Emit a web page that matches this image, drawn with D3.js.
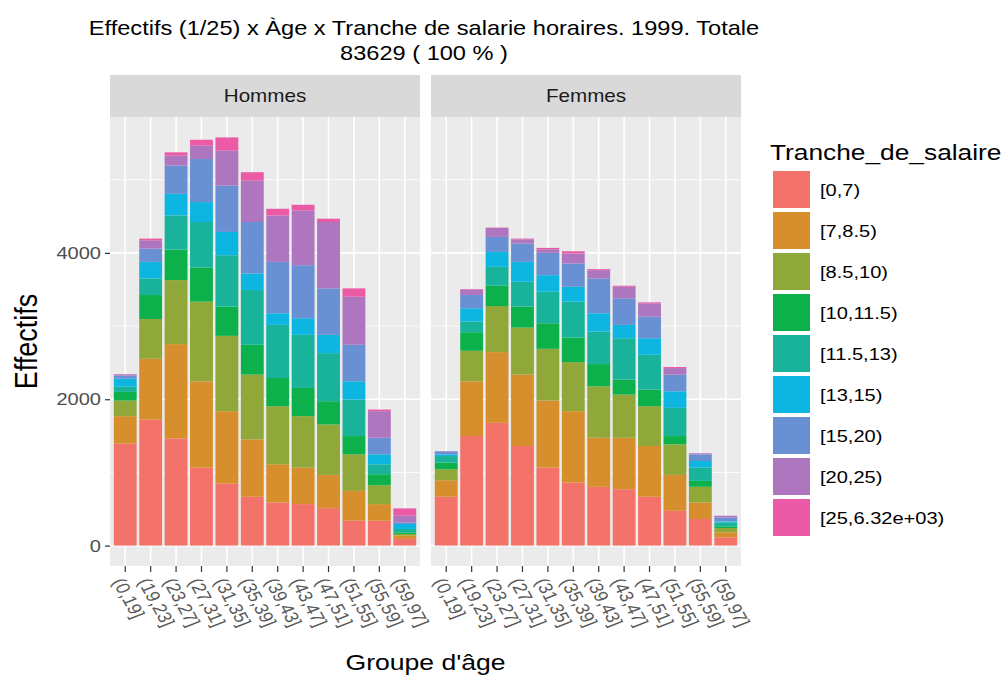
<!DOCTYPE html>
<html>
<head>
<meta charset="utf-8">
<script src="https://cdn.jsdelivr.net/npm/d3@7"></script>
<style>
  body { margin: 0; background: #fff; }
  text { font-family: "Liberation Sans", Arial, sans-serif; }
</style>
</head>
<body>
<svg id="chart" width="1002" height="675"></svg>
<script>
// Data
var ages = ["(0,19]", "(19,23]", "(23,27]", "(27,31]", "(31,35]", "(35,39]",
            "(39,43]", "(43,47]", "(47,51]", "(51,55]", "(55,59]", "(59,97]"];
var tranches = ["[0,7)", "[7,8.5)", "[8.5,10)", "[10,11.5)", "[11.5,13)",
                "[13,15)", "[15,20)", "[20,25)", "[25,6.32e+03)"];
var couleurs = ["#F3736B", "#D68F2C", "#90A73A", "#0DB14B", "#19B39B",
                "#0DB6E0", "#6A90D4", "#AE76BE", "#EA5AA5"];
var sexes = ["Hommes", "Femmes"];

// one row per age group, one value per wage band
var hommes = [
  [1392, 377, 213, 118, 70, 110, 45, 15, 5],
  [1720, 833, 544, 327, 227, 226, 182, 113, 23],
  [1465, 1288, 875, 417, 467, 295, 386, 136, 45],
  [1066, 1179, 1088, 467, 622, 272, 589, 182, 81],
  [848, 989, 1029, 399, 703, 318, 634, 477, 181],
  [667, 784, 885, 408, 748, 227, 703, 567, 113],
  [590, 521, 794, 385, 726, 159, 702, 635, 91],
  [567, 499, 703, 385, 726, 227, 725, 748, 77],
  [512, 454, 689, 318, 657, 250, 635, 907, 45],
  [340, 408, 499, 250, 498, 250, 499, 657, 114],
  [340, 227, 258, 150, 136, 136, 227, 363, 22],
  [91, 45, 23, 22, 46, 68, 22, 91, 100]
];
var femmes = [
  [667, 226, 150, 91, 90, 23, 40, 5, 0],
  [1497, 748, 417, 254, 145, 182, 181, 77, 5],
  [1678, 966, 630, 277, 258, 204, 205, 122, 5],
  [1361, 975, 643, 286, 340, 272, 250, 59, 9],
  [1066, 916, 707, 349, 431, 227, 304, 50, 18],
  [862, 975, 671, 335, 490, 204, 318, 136, 31],
  [803, 671, 703, 304, 444, 250, 476, 113, 14],
  [771, 703, 589, 205, 566, 182, 363, 158, 14],
  [667, 694, 544, 226, 477, 226, 295, 182, 13],
  [476, 490, 417, 114, 385, 227, 227, 90, 14],
  [363, 227, 213, 81, 182, 90, 91, 14, 0],
  [113, 68, 59, 23, 54, 14, 54, 23, 0]
];
var yTicks = [0, 2000, 4000];
var yMinor = [1000, 3000, 5000];

var svg = d3.select("#chart");

var panelW = 310, panelTop = 117, panelBottom = 566, stripTop = 75;
var panelX = [110, 431];
var sx = 1.18; // the text in the picture is a bit wide

// text helper: stretched horizontally round its anchor
function texte(parent, x, y, txt, size, anchor, extra) {
  return parent.append("text")
    .attr("transform", "translate(" + x + "," + y + ") scale(" + sx + ",1)" + (extra || ""))
    .attr("text-anchor", anchor || "start")
    .attr("font-size", size)
    .attr("fill", "#000")
    .text(txt);
}

var maxTotal = d3.max(hommes.concat(femmes), function(r) { return d3.sum(r); });
var y = d3.scaleLinear()
  .domain([-0.05 * maxTotal, 1.05 * maxTotal])
  .range([panelBottom, panelTop]);

var stack = d3.stack().keys(d3.range(tranches.length));

sexes.forEach(function(sexe, i) {
  var rows = i == 0 ? hommes : femmes;
  var x = d3.scaleBand()
    .domain(ages)
    .range([panelX[i], panelX[i] + panelW])
    .paddingInner(0.1)
    .paddingOuter(0.15);

  var g = svg.append("g");

  // panel background + grid
  g.append("rect")
    .attr("x", panelX[i]).attr("y", panelTop)
    .attr("width", panelW).attr("height", panelBottom - panelTop)
    .attr("fill", "#EBEBEB");

  g.selectAll(".minor").data(yMinor).enter().append("line")
    .attr("x1", panelX[i]).attr("x2", panelX[i] + panelW)
    .attr("y1", function(d) { return y(d); }).attr("y2", function(d) { return y(d); })
    .attr("stroke", "#fff").attr("stroke-width", 0.8);

  g.selectAll(".major").data(yTicks).enter().append("line")
    .attr("x1", panelX[i]).attr("x2", panelX[i] + panelW)
    .attr("y1", function(d) { return y(d); }).attr("y2", function(d) { return y(d); })
    .attr("stroke", "#fff").attr("stroke-width", 1.6);

  g.selectAll(".vgrid").data(ages).enter().append("line")
    .attr("x1", function(d) { return x(d) + x.bandwidth() / 2; })
    .attr("x2", function(d) { return x(d) + x.bandwidth() / 2; })
    .attr("y1", panelTop).attr("y2", panelBottom)
    .attr("stroke", "#fff").attr("stroke-width", 1.6);

  // stacked bars
  var series = stack(rows);
  g.selectAll(".serie").data(series).enter().append("g")
    .attr("fill", function(d) { return couleurs[d.key]; })
    .selectAll("rect").data(function(d) { return d; }).enter().append("rect")
      .attr("x", function(d, j) { return x(ages[j]); })
      .attr("width", x.bandwidth())
      .attr("y", function(d) { return y(d[1]); })
      .attr("height", function(d) { return y(d[0]) - y(d[1]); });

  // strip
  g.append("rect")
    .attr("x", panelX[i]).attr("y", stripTop)
    .attr("width", panelW).attr("height", panelTop - stripTop)
    .attr("fill", "#D9D9D9");
  texte(g, panelX[i] + panelW / 2, (stripTop + panelTop) / 2 + 6, sexe, 17.5, "middle")
    .attr("fill", "#1A1A1A");

  // x axis
  var xAxis = g.append("g")
    .attr("transform", "translate(0," + panelBottom + ")")
    .call(d3.axisBottom(x).tickSize(6).tickSizeOuter(0));
  xAxis.select(".domain").remove();
  xAxis.selectAll(".tick line").attr("stroke", "#333").attr("stroke-width", 1.2);
  xAxis.selectAll(".tick text")
    .attr("font-size", 16.5).attr("fill", "#595959")
    .attr("text-anchor", "start")
    .attr("y", 0).attr("dy", "0.35em")
    .attr("transform", "translate(-7,13) scale(" + sx + ",1) rotate(65)");
});

// y axis (left panel only)
var yAxis = svg.append("g")
  .attr("transform", "translate(" + panelX[0] + ",0)")
  .call(d3.axisLeft(y).tickValues(yTicks).tickFormat(d3.format("d")).tickSize(5));
yAxis.select(".domain").remove();
yAxis.selectAll(".tick line").attr("stroke", "#333").attr("stroke-width", 1.2);
yAxis.selectAll(".tick text")
  .attr("font-size", 17).attr("fill", "#4D4D4D")
  .attr("x", 0)
  .attr("transform", "translate(-9,0) scale(" + sx + ",1)");

// titles
texte(svg, 424, 35, "Effectifs (1/25) x Àge x Tranche de salarie horaires. 1999. Totale", 20, "middle");
texte(svg, 424, 60, "83629 ( 100 % )", 20, "middle");

texte(svg, 37, (panelTop + panelBottom) / 2, "Effectifs", 27, "middle", " rotate(-90)");

texte(svg, (panelX[0] + panelX[1] + panelW) / 2, 670, "Groupe d'âge", 22.5, "middle");

// legend
var legende = svg.append("g").attr("transform", "translate(770,0)");
texte(legende, 0, 160, "Tranche_de_salaire", 22.3, "start");
var items = legende.selectAll(".item").data(tranches).enter().append("g")
  .attr("transform", function(d, k) { return "translate(3," + (171 + k * 41) + ")"; });
items.append("rect")
  .attr("width", 37).attr("height", 37)
  .attr("fill", function(d, k) { return couleurs[k]; });
items.each(function(d) {
  texte(d3.select(this), 47, 25, d, 17, "start");
});
</script>
</body>
</html>
